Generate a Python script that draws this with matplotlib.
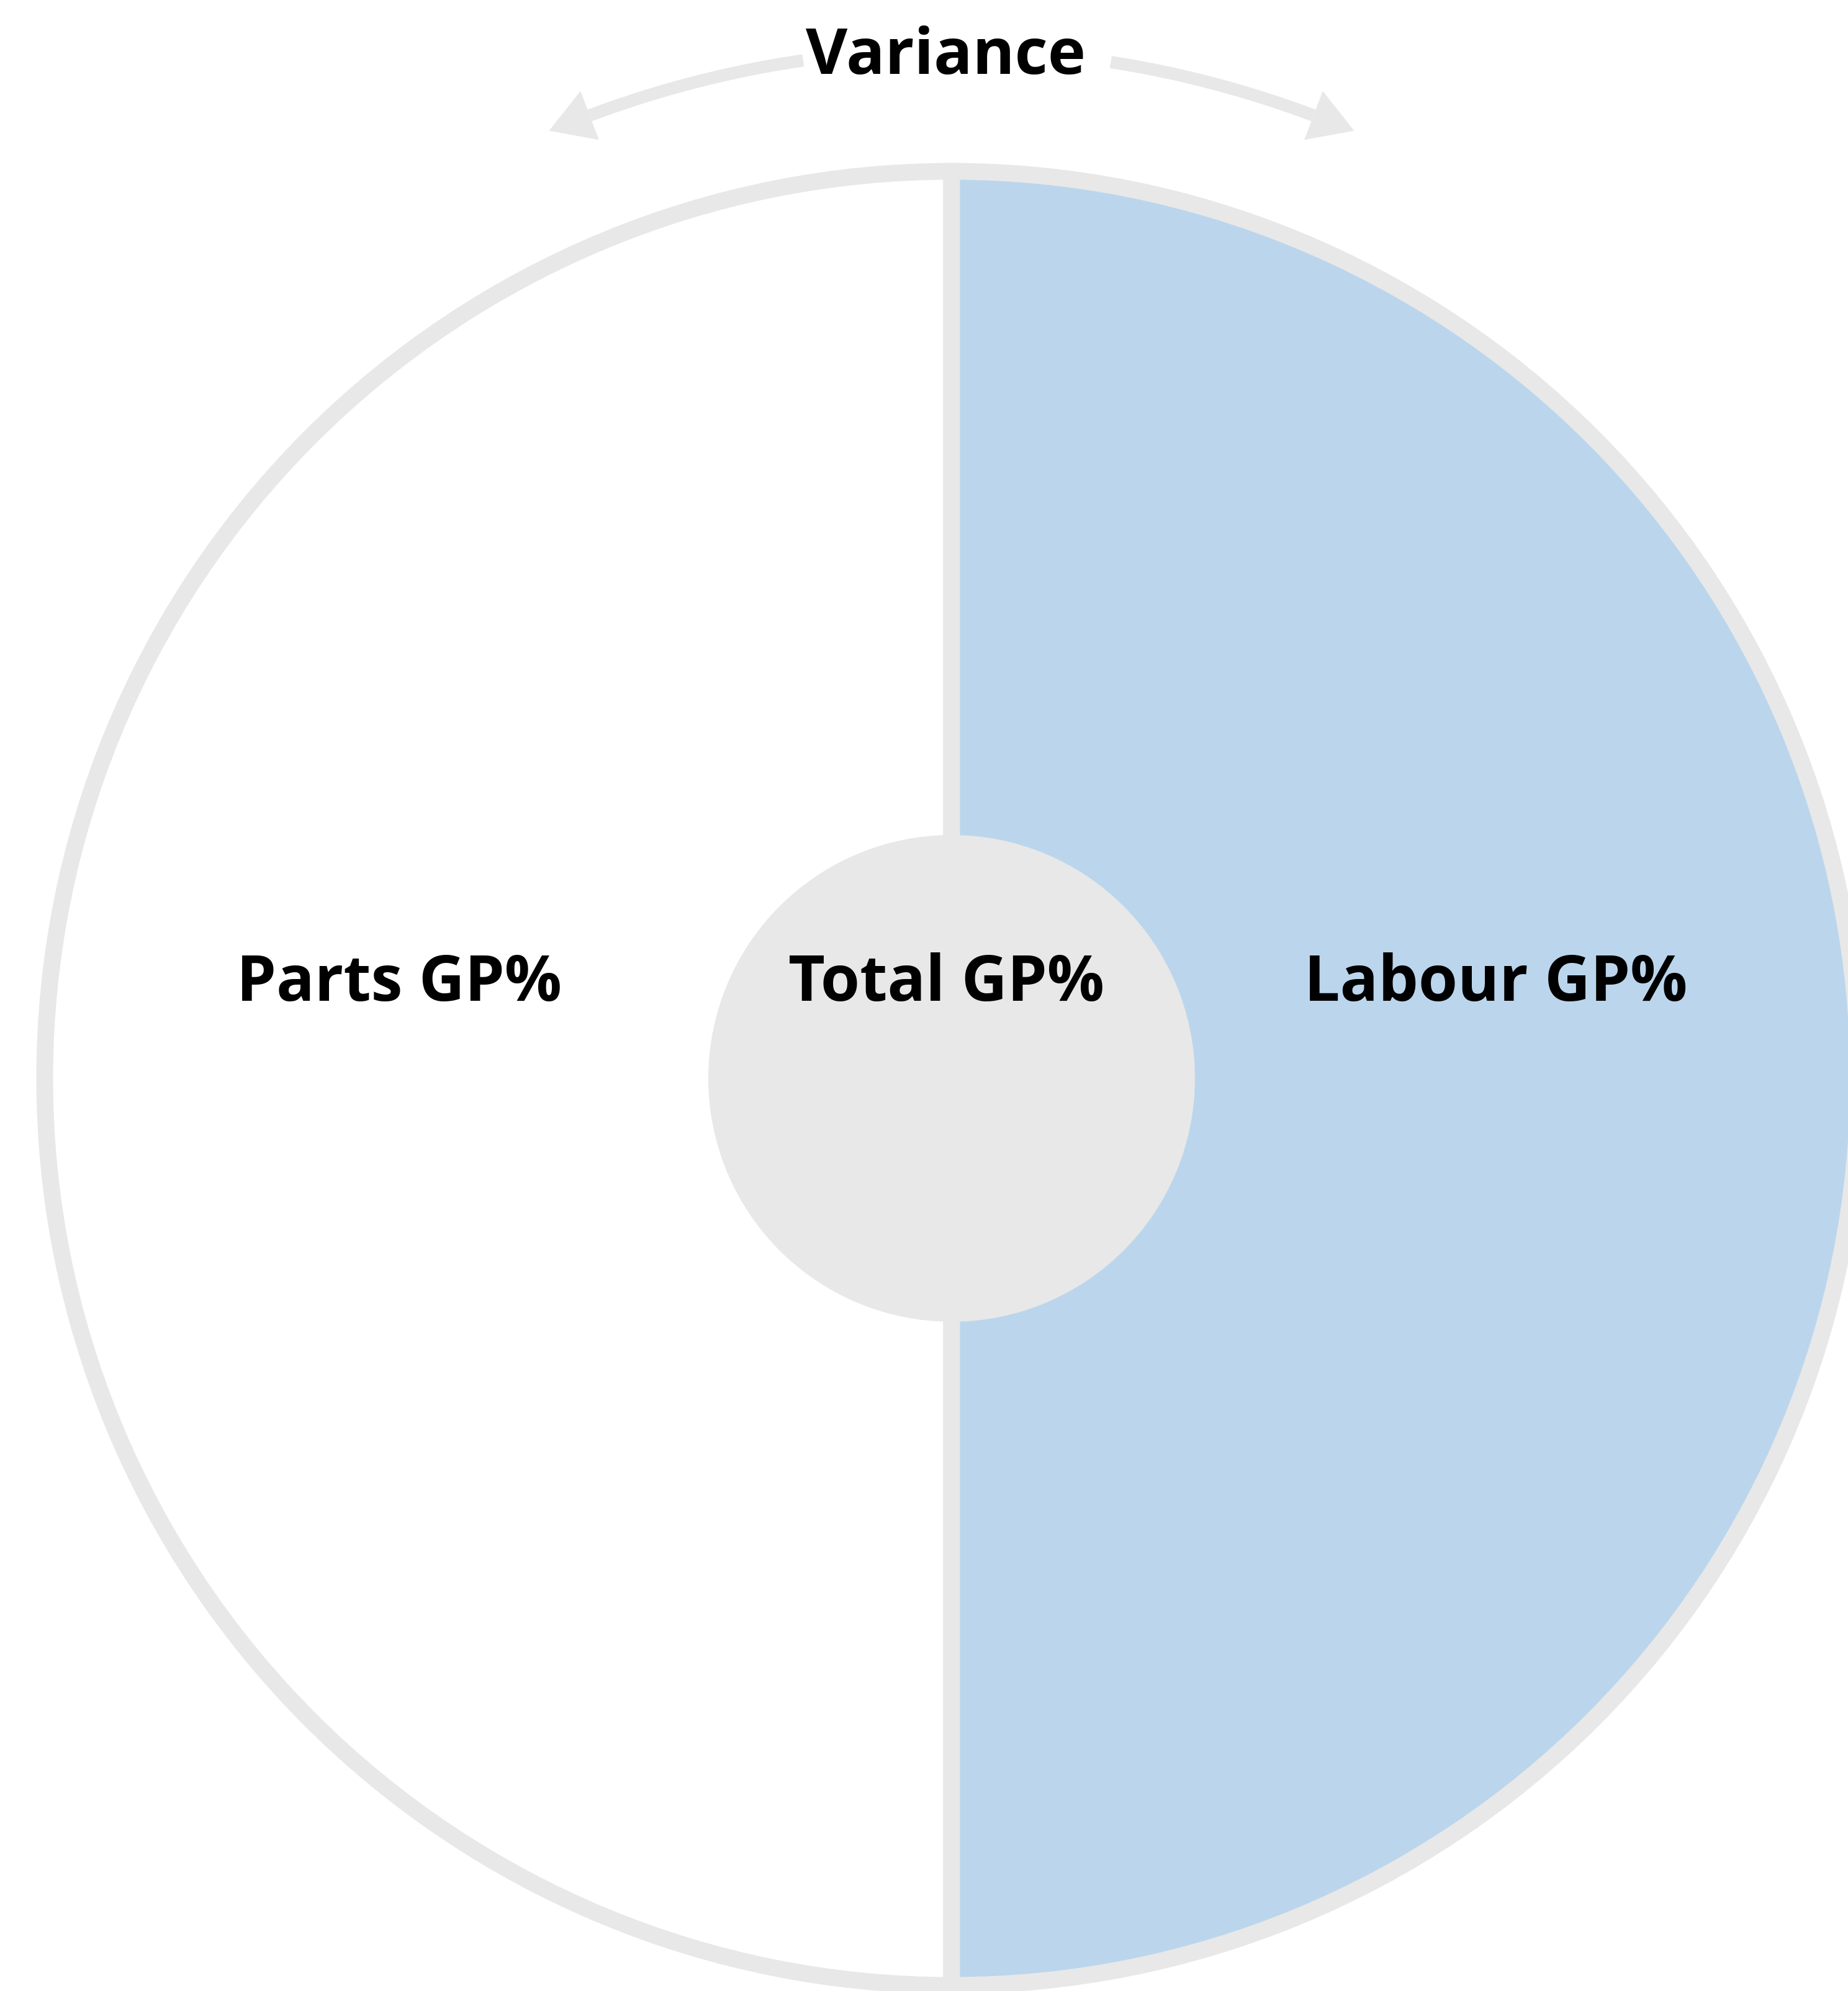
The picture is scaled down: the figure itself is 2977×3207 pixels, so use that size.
import matplotlib
matplotlib.use("Agg")
import matplotlib.pyplot as plt
import numpy as np
from matplotlib.patches import Circle, Polygon

# data
segments = ["Parts GP%", "Labour GP%"]
shares = [50, 50]
centre_label = "Total GP%"
arrow_label = "Variance"

W, H = 2977, 3207
CX, CY = 1533, 1737
GREY = "#e8e8e8"
BLUE = "#bbd6ec"
PX = 72 / 100  # points per pixel at dpi 100

plt.rcParams["font.family"] = ["Open Sans", "DejaVu Sans"]

fig = plt.figure(figsize=(W / 100, H / 100), dpi=100, facecolor="white")
ax = fig.add_axes([0, 0, 1, 1])

# y axis is flipped below, so counterclock=True puts the first share on the left
ax.pie(
    shares,
    colors=["white", BLUE],
    startangle=90,
    counterclock=True,
    center=(CX, CY),
    radius=1461,
    wedgeprops=dict(edgecolor=GREY, linewidth=27 * PX, joinstyle="miter"),
)
ax.add_patch(Circle((CX, CY), 392, facecolor=GREY, edgecolor="none", zorder=5))

# variance arrow: arc concentric with the pie, split around the label
R_ARC = 1657
lw_arc = 20


def arc_pts(a0, a1, n=80):
    # angles measured from vertical, positive to the right (screen coords)
    a = np.radians(np.linspace(a0, a1, n))
    return CX + R_ARC * np.sin(a), CY - R_ARC * np.cos(a)


for a0, a1 in [(-8.3, -20.6), (8.9, 20.6)]:
    xs, ys = arc_pts(a0, a1)
    ax.plot(xs, ys, color=GREY, lw=lw_arc * PX, solid_capstyle="butt", zorder=3)
    a = np.radians(a1)
    base = np.array([CX + R_ARC * np.sin(a), CY - R_ARC * np.cos(a)])
    sgn = np.sign(a1)
    tang = np.array([sgn * np.cos(a), sgn * np.sin(a)])
    norm = np.array([-np.sin(a), np.cos(a)])
    tip = base + tang * 70
    head = [tip, base + norm * 42, base - norm * 42]
    ax.add_patch(Polygon(head, closed=True, facecolor=GREY, edgecolor="none", zorder=3))

fs = 73.5
ax.text(1524, 119, arrow_label, ha="center", va="baseline", fontsize=fs + 1,
        fontweight="bold", color="black", zorder=6)
ax.text(643, 1612, segments[0], ha="center", va="baseline", fontsize=fs,
        fontweight="bold", color="black", zorder=6)
ax.text(2410, 1612, segments[1], ha="center", va="baseline", fontsize=fs,
        fontweight="bold", color="black", zorder=6)
ax.text(1524, 1612, centre_label, ha="center", va="baseline", fontsize=fs,
        fontweight="bold", color="black", zorder=6)

ax.set_xlim(0, W)
ax.set_ylim(H, 0)
ax.set_aspect("auto")
ax.axis("off")

fig.savefig("out.png", dpi=100, facecolor="white")
